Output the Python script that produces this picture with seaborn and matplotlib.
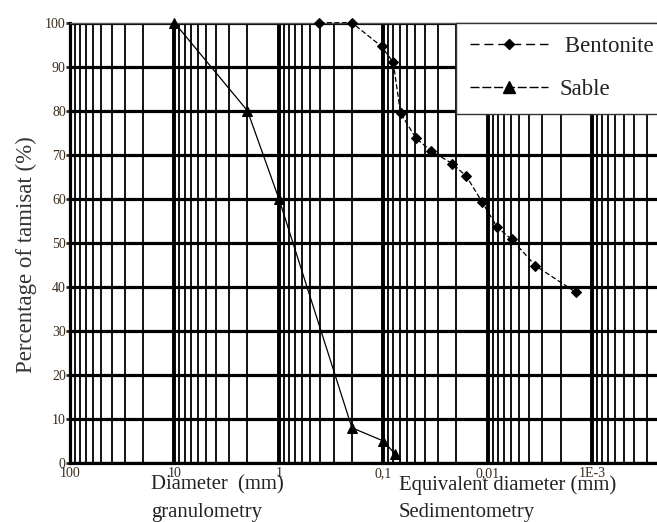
import matplotlib
matplotlib.use("Agg")
import matplotlib.pyplot as plt
from matplotlib.ticker import FixedLocator, NullFormatter, LogLocator
from matplotlib.lines import Line2D
import seaborn as sns
import pandas as pd

# Data
sable_d = [10, 2, 1, 0.2, 0.1, 0.077]
sable_p = [100, 80, 60, 8, 5, 2]
bento_d = [0.41, 0.2, 0.104, 0.0805, 0.0685, 0.0489, 0.0351, 0.0219, 0.016,
           0.0113, 0.0081, 0.0059, 0.0035, 0.00144]
bento_p = [100, 100, 94.6, 91.0, 79.5, 73.8, 70.9, 68.0, 65.1, 59.2, 53.5,
           50.8, 44.8, 38.8]
xtick_vals = [100, 10, 1, 0.1, 0.01, 0.001]
xtick_labels = ["100", "10", "1", "0,1", "0,01", "1E-3"]
ytick_vals = [0, 10, 20, 30, 40, 50, 60, 70, 80, 90, 100]

sns.set_theme(style="white")
plt.rcParams['font.family'] = ['Liberation Serif', 'DejaVu Serif']
plt.rcParams['text.color'] = '#222222'

W, H = 657, 522
fig = plt.figure(figsize=(W / 100, H / 100), dpi=100)
ax = fig.add_axes([70 / W, 1 - 463 / H, 1 - 70 / W, (463 - 22.7) / H])

ax.set_xscale('log')
ax.set_xlim(100, 2.4e-4)
ax.set_ylim(0, 100)

# grid
ax.xaxis.set_major_locator(FixedLocator(xtick_vals))
ax.xaxis.set_minor_locator(LogLocator(base=10, subs=range(2, 10), numticks=20))
ax.xaxis.set_minor_formatter(NullFormatter())
ax.set_xticklabels(xtick_labels)
ax.yaxis.set_major_locator(FixedLocator(ytick_vals))
ax.grid(which='major', axis='x', color='black', linewidth=2.8)
ax.grid(which='minor', axis='x', color='black', linewidth=1.3)
ax.grid(which='major', axis='y', color='black', linewidth=2.3)
ax.set_axisbelow(True)

for s in ax.spines.values():
    s.set_color('black')
    s.set_linewidth(2.3)
ax.spines['top'].set_linewidth(1.0)
ax.spines['top'].set_color('#555555')
ax.spines['right'].set_visible(False)

ax.tick_params(axis='x', which='both', length=0, pad=3, labelsize=10,
               labelcolor='#3a2a1a')
ax.tick_params(axis='y', which='major', length=3, width=2, direction='out',
               pad=0, labelsize=10, labelcolor='#3a2a1a', left=True)

df_b = pd.DataFrame({'d': bento_d, 'p': bento_p})
df_s = pd.DataFrame({'d': sable_d, 'p': sable_p})
sns.lineplot(data=df_b, x='d', y='p', sort=False, ax=ax, color='black',
             linewidth=0.9, marker='D', markersize=5.5, markeredgecolor='black',
             linestyle=(0, (4, 2)), legend=False, zorder=5)
sns.lineplot(data=df_s, x='d', y='p', sort=False, ax=ax, color='black',
             linewidth=0.9, marker='^', markersize=7.5, markeredgecolor='black',
             legend=False, zorder=5)
for ln in ax.lines:
    ln.set_clip_on(False)

ax.set_xlabel('')
ax.set_ylabel('Percentage of tamisat (%)', fontsize=16.5, color='#333333')
ax.yaxis.set_label_coords(-33 / (W - 70), 1 - (255 - 22.7) / 440.3)

handles = [
    Line2D([], [], color='black', linewidth=1.0, linestyle=(0, (6.5, 3.5)),
           marker='D', markersize=5, markeredgecolor='black'),
    Line2D([], [], color='black', linewidth=1.0, linestyle=(0, (6.5, 2)),
           marker='^', markersize=8, markeredgecolor='black'),
]
leg = ax.legend(handles, [' Bentonite    ', 'Sable'], loc='upper left',
                bbox_to_anchor=((456 - 70) / (W - 70), 1.0),
                frameon=True, fancybox=False, fontsize=16.5, handlelength=3.4,
                handletextpad=0.5, borderpad=0.6, labelspacing=0.95,
                borderaxespad=0)
leg.get_frame().set_edgecolor('#333333')
leg.get_frame().set_linewidth(1.0)
leg.get_frame().set_alpha(1)
for t in leg.get_texts():
    t.set_color('#222222')

fs = 14.9
fig.text(151 / W, 1 - 485 / H, 'Diameter  (mm)', fontsize=fs, va='center',
         ha='left', color='#222222')
fig.text(151 / W, 1 - 513 / H, 'granulometry', fontsize=fs, va='center',
         ha='left', color='#222222')
fig.text(399 / W, 1 - 485 / H, 'Equivalent diameter (mm)', fontsize=fs,
         va='center', ha='left', color='#222222')
fig.text(399 / W, 1 - 513 / H, 'Sedimentometry', fontsize=fs, va='center',
         ha='left', color='#222222')

fig.savefig('out.png', dpi=100)
